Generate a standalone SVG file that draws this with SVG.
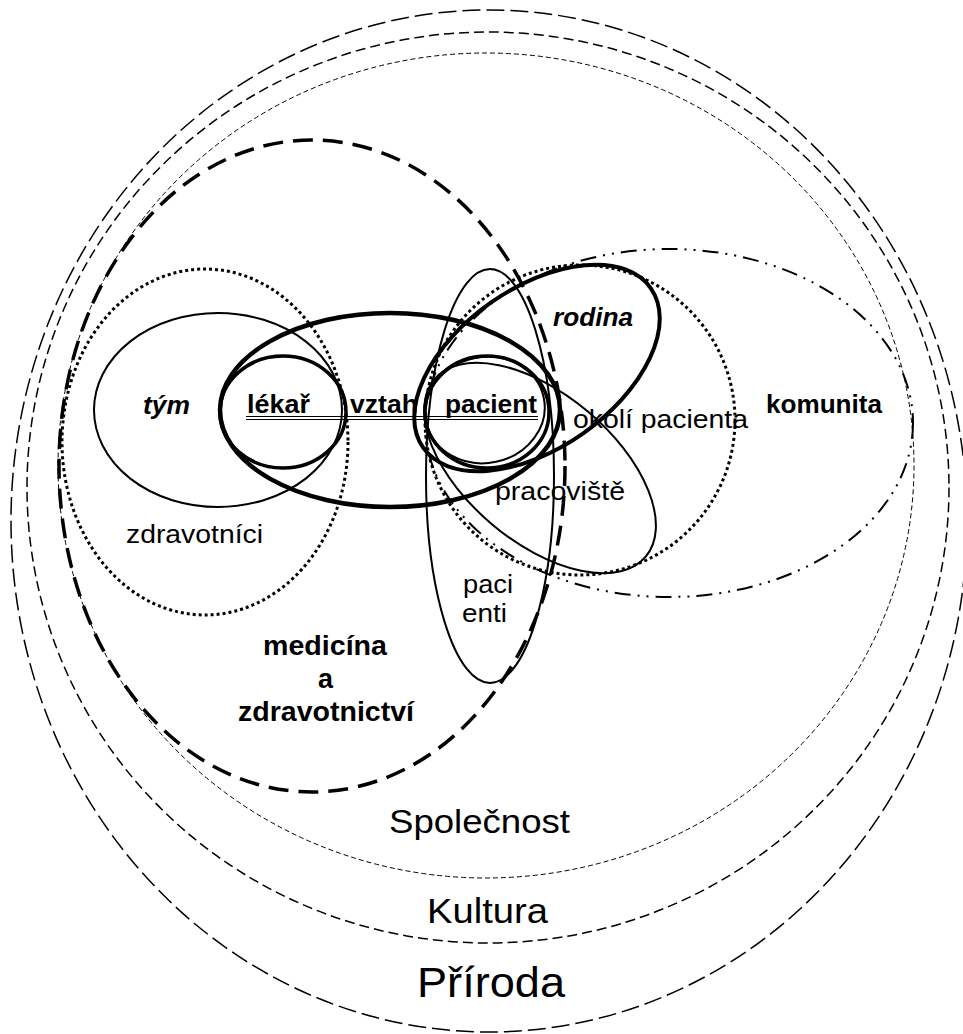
<svg xmlns="http://www.w3.org/2000/svg" width="963" height="1034" viewBox="0 0 963 1034">
<style>
 .e{fill:none;stroke:#000}
 .priroda{stroke-width:1.5;stroke-dasharray:18 6}
 .kultura{stroke-width:1.5;stroke-dasharray:10 5}
 .spol{stroke-width:1;stroke-dasharray:5 3}
 .med{stroke-width:3.5;stroke-dasharray:20 10}
 .dot{stroke-width:3;stroke-dasharray:3 3}
 .dd{stroke-width:2;stroke-dasharray:16 7 2 7 2 7}
 .thin{stroke-width:2}
 .mid{stroke-width:3.5}
 .thick{stroke-width:4.5}
 .ul{stroke:#000;stroke-width:1}
 text{font-family:"Liberation Sans",Arial,Helvetica,sans-serif;fill:#000}
 .b{font-weight:bold}
 .i{font-style:italic}
 .s26{font-size:26px}
 .s28{font-size:28px}
</style>
<rect width="963" height="1034" fill="#fff"/>
<g id="priroda">
 <ellipse class="e priroda" cx="489" cy="521" rx="478" ry="511"/>
 <text x="417" y="997" font-size="42" textLength="148" lengthAdjust="spacingAndGlyphs">Příroda</text>
</g>
<g id="kultura">
 <ellipse class="e kultura" cx="488" cy="487.5" rx="461" ry="455.5"/>
 <text x="427" y="923" font-size="35" textLength="121" lengthAdjust="spacingAndGlyphs">Kultura</text>
</g>
<g id="spolecnost">
 <ellipse class="e spol" cx="486" cy="465.5" rx="428" ry="412.5"/>
 <text x="389" y="833" font-size="34" textLength="181" lengthAdjust="spacingAndGlyphs">Společnost</text>
</g>
<g id="medicina">
 <ellipse class="e med" cx="312" cy="466" rx="253" ry="326"/>
 <text class="b s28" x="263" y="655" textLength="124" lengthAdjust="spacingAndGlyphs">medicína</text>
 <text class="b s28" x="318" y="688" textLength="15" lengthAdjust="spacingAndGlyphs">a</text>
 <text class="b s28" x="238" y="721" textLength="176" lengthAdjust="spacingAndGlyphs">zdravotnictví</text>
</g>
<g id="komunita">
 <ellipse class="e dd" cx="669" cy="423" rx="244" ry="174"/>
 <text class="b s26" x="766" y="413" textLength="116" lengthAdjust="spacingAndGlyphs">komunita</text>
</g>
<g id="okoli">
 <circle class="e dot" cx="580" cy="420" r="155"/>
 <text class="s26" x="573" y="428" textLength="175" lengthAdjust="spacingAndGlyphs">okolí pacienta</text>
</g>
<g id="zdravotnici">
 <ellipse class="e dot" cx="205" cy="442" rx="143" ry="173"/>
 <text class="s26" x="126" y="543" textLength="137" lengthAdjust="spacingAndGlyphs">zdravotníci</text>
</g>
<g id="tym">
 <ellipse class="e thin" cx="218" cy="410" rx="124" ry="97"/>
 <text class="b i s26" x="143" y="414" textLength="47" lengthAdjust="spacingAndGlyphs">tým</text>
</g>
<g id="pacienti">
 <ellipse class="e thin" cx="490" cy="476" rx="64" ry="207"/>
 <text class="s26" x="463" y="593" textLength="50" lengthAdjust="spacingAndGlyphs">paci</text>
 <text class="s26" x="462" y="622" textLength="45" lengthAdjust="spacingAndGlyphs">enti</text>
</g>
<g id="pracoviste">
 <ellipse class="e thin" cx="0" cy="0" rx="138" ry="74" transform="translate(540 468) rotate(40)"/>
 <text class="s26" x="495" y="500" textLength="130" lengthAdjust="spacingAndGlyphs">pracoviště</text>
</g>
<g id="rodina">
 <ellipse class="e thick" cx="0" cy="0" rx="139" ry="80" style="stroke-width:4" transform="translate(537 368) rotate(-35)"/>
 <text class="b i s26" x="553" y="326" textLength="80" lengthAdjust="spacingAndGlyphs">rodina</text>
</g>
<g id="vztah">
 <ellipse class="e thick" cx="390" cy="410" rx="170" ry="97"/>
 <text class="b s26" x="350" y="413" textLength="68" lengthAdjust="spacingAndGlyphs">vztah</text>
 <line class="ul" x1="246" y1="416.5" x2="538" y2="416.5"/>
 <line class="ul" x1="246" y1="419.5" x2="538" y2="419.5"/>
</g>
<g id="lekar">
 <ellipse class="e mid" cx="283" cy="412" rx="63" ry="56"/>
 <text class="b s26" x="247" y="413" textLength="63" lengthAdjust="spacingAndGlyphs">lékař</text>
</g>
<g id="pacient">
 <ellipse class="e mid" cx="487" cy="412" rx="62" ry="56"/>
 <ellipse class="e thin" cx="0" cy="0" rx="60" ry="53" transform="translate(485 410) rotate(-12)"/>
 <text class="b s26" x="445" y="413" textLength="92" lengthAdjust="spacingAndGlyphs">pacient</text>
</g>
<g id="connectors"/>
</svg>
